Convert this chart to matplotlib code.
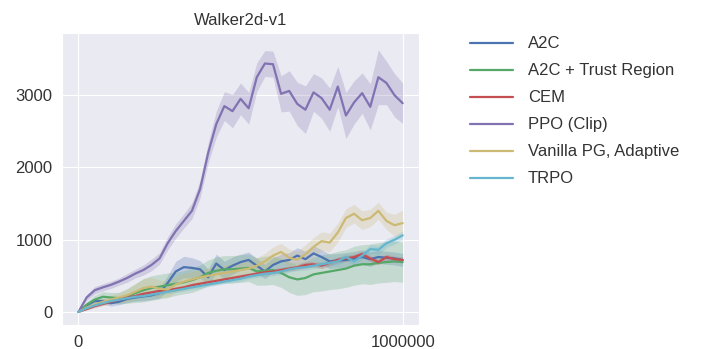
import numpy as np
import matplotlib
matplotlib.use('Agg')
import matplotlib.pyplot as plt
import seaborn as sns

sns.set_style('darkgrid')
plt.rcParams['font.family'] = ['Liberation Sans', 'DejaVu Sans']

# timesteps, every 25k
steps = np.arange(0, 1000001, 25000)

ppo = [0, 200, 300, 340, 375, 420, 470, 530, 580, 650, 740, 950, 1120, 1260, 1400,
       1700, 2200, 2600, 2850, 2780, 2950, 2820, 3250, 3440, 3430, 3020, 3060, 2880,
       2800, 3040, 2960, 2800, 3120, 2720, 2900, 3030, 2840, 3250, 3170, 3000, 2890]
ppo_sd = [0, 40, 50, 50, 50, 50, 60, 60, 70, 80, 80, 90, 100, 100, 110,
          120, 140, 180, 200, 230, 220, 220, 200, 180, 180, 250, 280, 300,
          330, 260, 280, 300, 280, 320, 300, 280, 320, 380, 300, 300, 280]

a2c = [0, 90, 150, 150, 120, 140, 180, 200, 215, 230, 260, 400, 560, 620, 610,
       590, 480, 670, 580, 640, 690, 720, 640, 560, 650, 700, 720, 780,
       730, 810, 760, 700, 710, 720, 740, 760, 730, 760, 750, 740, 720]
a2c_sd = [0, 30, 40, 40, 40, 40, 50, 50, 60, 60, 70, 100, 140, 150, 140,
          120, 110, 130, 120, 120, 110, 110, 100, 100, 100, 100, 100, 110,
          110, 110, 100, 100, 100, 100, 100, 100, 100, 90, 90, 90, 90]

a2c_tr = [0, 100, 170, 210, 200, 190, 220, 260, 300, 330, 350, 370, 390, 410, 440,
          480, 540, 570, 590, 590, 600, 610, 560, 570, 580, 540, 480, 450,
          470, 520, 540, 560, 580, 600, 640, 660, 660, 680, 690, 700, 690]
a2c_tr_sd = [0, 40, 60, 70, 70, 80, 100, 130, 160, 170, 170, 170, 160, 160, 170,
             170, 180, 190, 190, 190, 190, 190, 190, 200, 200, 200, 210, 220,
             230, 240, 250, 250, 260, 260, 270, 270, 280, 280, 280, 280, 280]

cem = [0, 40, 80, 110, 140, 170, 200, 220, 250, 270, 290, 300, 320, 340, 370,
       390, 410, 430, 450, 470, 490, 510, 530, 550, 560, 580, 600, 620,
       650, 660, 640, 680, 720, 740, 760, 800, 740, 690, 760, 730, 720]
cem_sd = [0, 15, 20, 20, 20, 25, 25, 25, 30, 30, 30, 30, 30, 30, 30,
          30, 30, 30, 30, 30, 30, 30, 30, 30, 35, 35, 35, 35,
          40, 40, 40, 40, 40, 40, 40, 40, 40, 40, 40, 40, 40]

vpg = [0, 60, 100, 140, 170, 200, 230, 280, 330, 350, 320, 310, 380, 420, 450,
       480, 500, 520, 540, 560, 580, 600, 640, 700, 780, 830, 750, 720,
       800, 900, 980, 960, 1100, 1300, 1360, 1270, 1300, 1400, 1260, 1200, 1230]
vpg_sd = [0, 30, 40, 50, 60, 70, 90, 110, 130, 130, 120, 110, 110, 110, 110,
          110, 110, 110, 110, 110, 110, 110, 110, 110, 120, 120, 120, 120,
          130, 130, 130, 130, 130, 130, 130, 130, 120, 120, 120, 150, 180]

trpo = [0, 50, 90, 120, 150, 170, 190, 210, 220, 240, 260, 280, 300, 320, 340,
        360, 380, 400, 420, 440, 460, 490, 510, 530, 540, 560, 590, 610,
        620, 640, 660, 680, 700, 760, 700, 780, 870, 860, 950, 1000, 1060]
trpo_sd = [0, 15, 20, 20, 20, 20, 25, 25, 25, 25, 30, 30, 30, 30, 30,
           30, 30, 30, 30, 35, 35, 35, 35, 35, 40, 40, 40, 40,
           40, 40, 40, 40, 50, 50, 50, 50, 60, 60, 60, 60, 60]

labels = ['A2C', 'A2C + Trust Region', 'CEM', 'PPO (Clip)',
          'Vanilla PG, Adaptive', 'TRPO']
means = [a2c, a2c_tr, cem, ppo, vpg, trpo]
spreads = [a2c_sd, a2c_tr_sd, cem_sd, ppo_sd, vpg_sd, trpo_sd]
colors = ['#4C72B0', '#55A868', '#C44E52', '#8172B2', '#CCB974', '#64B5CD']

fig = plt.figure(figsize=(7.16, 3.49), dpi=100)
ax = fig.add_axes([0.087, 0.069, 0.498, 0.836])

for lab, m, s, c in zip(labels, means, spreads, colors):
    m = np.array(m, dtype=float)
    s = np.array(s, dtype=float)
    ax.fill_between(steps, m - s, m + s, color=c, alpha=0.25, lw=0)
    ax.plot(steps, m, color=c, lw=1.6, label=lab)

ax.set_xlim(-50000, 1050000)
ax.set_ylim(-180, 3860)
ax.set_xticks([0, 1000000])
ax.set_xticklabels(['0', '1000000'])
ax.set_yticks([0, 1000, 2000, 3000])
ax.tick_params(labelsize=12, colors='#333333')
ax.set_title('Walker2d-v1', fontsize=12, color='#333333')

ax.legend(loc='upper left', bbox_to_anchor=(1.1, 1.04), frameon=False,
          fontsize=12, handlelength=2.6, labelspacing=0.72, handletextpad=0.9,
          labelcolor='#333333')

fig.savefig('out.png', dpi=100)
